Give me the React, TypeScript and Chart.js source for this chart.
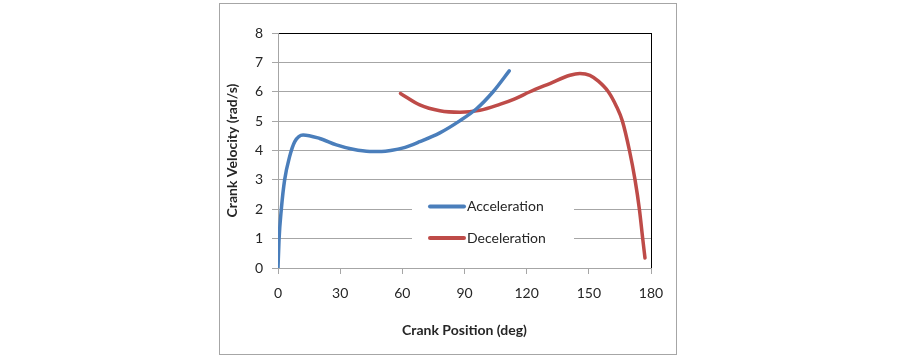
import React, { useEffect, useRef } from 'react';
import { Chart, registerables } from 'chart.js';

Chart.register(...registerables);

// ---- Data ----
const accelDeg = [0, 0.5, 1.6, 3.2, 5.6, 8.1, 12.1, 20.1, 28.2, 36.2, 44.3, 50, 55, 60, 68.4, 78.1, 87.5, 95.8, 103.8, 111.6];
const accelVel = [0, 0.96, 2.0, 3.0, 3.79, 4.3, 4.53, 4.41, 4.19, 4.04, 3.97, 3.97, 4.01, 4.08, 4.3, 4.6, 5.0, 5.42, 6.0, 6.71];

const decelDeg = [59.1, 68.4, 78.1, 87.8, 97.4, 107, 114, 121.6, 131.2, 140.9, 145.7, 150.5, 154.6, 159.4, 163.4, 166.2, 169.6, 172.3, 174.4, 176, 177.1];
const decelVel = [5.94, 5.55, 5.35, 5.3, 5.37, 5.57, 5.75, 6.0, 6.28, 6.56, 6.62, 6.56, 6.36, 6.0, 5.49, 5.0, 4.0, 3.0, 2.0, 1.0, 0.34];

const seriesNames = ['Acceleration', 'Deceleration'];
const seriesColors = ['#4a7ebb', '#be4b48'];
const xTickValues = [0, 30, 60, 90, 120, 150, 180];
const yTickValues = [0, 1, 2, 3, 4, 5, 6, 7, 8];
const xTitle = 'Crank Position (deg)';
const yTitle = 'Crank Velocity (rad/s)';

const FONT = 'Lato, "Open Sans", "DejaVu Sans", sans-serif';
const TEXT = '#262626';
const GRID = '#a6a6a6';

const toPoints = (xs: number[], ys: number[]) => xs.map((x, i) => ({ x, y: ys[i] }));

const decorPlugin = {
  id: 'decor',
  beforeDraw(chart: any) {
    const ctx = chart.ctx;
    ctx.save();
    ctx.fillStyle = '#ffffff';
    ctx.fillRect(0, 0, chart.width, chart.height);
    ctx.strokeStyle = '#a6a6a6';
    ctx.lineWidth = 1;
    ctx.strokeRect(219.5, 3.5, 457, 351);
    ctx.restore();
  },
  afterDatasetsDraw(chart: any) {
    const ctx = chart.ctx;
    ctx.save();
    // legend box (white background over gridlines)
    ctx.fillStyle = '#ffffff';
    ctx.fillRect(412, 190, 162, 68);
    const rows = [206.5, 238];
    chart.data.datasets.forEach((ds: any, i: number) => {
      const y = rows[i];
      ctx.strokeStyle = ds.borderColor;
      ctx.lineWidth = 4;
      ctx.lineCap = 'round';
      ctx.beginPath();
      ctx.moveTo(430, y);
      ctx.lineTo(464, y);
      ctx.stroke();
      ctx.fillStyle = TEXT;
      ctx.font = `14px ${FONT}`;
      ctx.textAlign = 'left';
      ctx.textBaseline = 'middle';
      ctx.fillText(ds.label, 467, y);
    });
    ctx.restore();
  },
};

export default function App() {
  const canvasRef = useRef<HTMLCanvasElement | null>(null);

  useEffect(() => {
    document.body.style.margin = '0';
    const canvas = canvasRef.current;
    if (!canvas) return;
    const chart = new Chart(canvas, {
      type: 'scatter',
      data: {
        datasets: [
          {
            label: seriesNames[0],
            data: toPoints(accelDeg, accelVel),
            borderColor: seriesColors[0],
            backgroundColor: seriesColors[0],
            borderWidth: 3.5,
            showLine: true,
            pointRadius: 0,
            cubicInterpolationMode: 'monotone',
            borderCapStyle: 'round',
            borderJoinStyle: 'round',
          },
          {
            label: seriesNames[1],
            data: toPoints(decelDeg, decelVel),
            borderColor: seriesColors[1],
            backgroundColor: seriesColors[1],
            borderWidth: 3.5,
            showLine: true,
            pointRadius: 0,
            cubicInterpolationMode: 'monotone',
            borderCapStyle: 'round',
            borderJoinStyle: 'round',
          },
        ],
      },
      options: {
        responsive: false,
        animation: false,
        devicePixelRatio: 1,
        layout: { padding: { left: 224, top: 33, right: 249, bottom: 25 } },
        plugins: {
          legend: { display: false },
          tooltip: { enabled: false },
        },
        scales: {
          x: {
            type: 'linear',
            min: 0,
            max: 180,
            afterBuildTicks: (s: any) => {
              s.ticks = xTickValues.map((v) => ({ value: v }));
            },
            ticks: {
              stepSize: 30,
              padding: 11,
              color: TEXT,
              font: { family: FONT, size: 14 },
              maxRotation: 0,
              autoSkip: false,
            },
            grid: {
              color: (c: any) => (c.tick && c.tick.value === 180 ? '#000000' : 'rgba(0,0,0,0)'),
              tickColor: GRID,
              tickLength: 6,
              drawOnChartArea: true,
            },
            border: { color: GRID, width: 1 },
            title: {
              display: true,
              text: xTitle,
              color: TEXT,
              font: { family: FONT, size: 14, weight: 'bold' },
              padding: 0,
            },
            afterFit: (s: any) => {
              s.height = 71;
              s.paddingLeft = 0;
              s.paddingRight = 0;
            },
          },
          y: {
            type: 'linear',
            min: 0,
            max: 8,
            afterBuildTicks: (s: any) => {
              s.ticks = yTickValues.map((v) => ({ value: v }));
            },
            ticks: {
              stepSize: 1,
              padding: 9,
              color: TEXT,
              font: { family: FONT, size: 14 },
            },
            grid: {
              color: (c: any) => (c.tick && c.tick.value === 8 ? '#000000' : GRID),
              tickColor: GRID,
              tickLength: 6,
            },
            border: { color: GRID, width: 1 },
            title: {
              display: true,
              text: yTitle,
              color: TEXT,
              font: { family: FONT, size: 14, weight: 'bold' },
              padding: 0,
            },
            afterFit: (s: any) => {
              s.width = 54;
              s.paddingTop = 0;
              s.paddingBottom = 0;
            },
          },
        },
      } as any,
      plugins: [decorPlugin],
    });
    return () => chart.destroy();
  }, []);

  return (
    <div style={{ position: 'fixed', left: 0, top: 0, width: 900, height: 364, background: '#fff' }}>
      <canvas ref={canvasRef} width={900} height={364} style={{ display: 'block', width: 900, height: 364 }} />
    </div>
  );
}
